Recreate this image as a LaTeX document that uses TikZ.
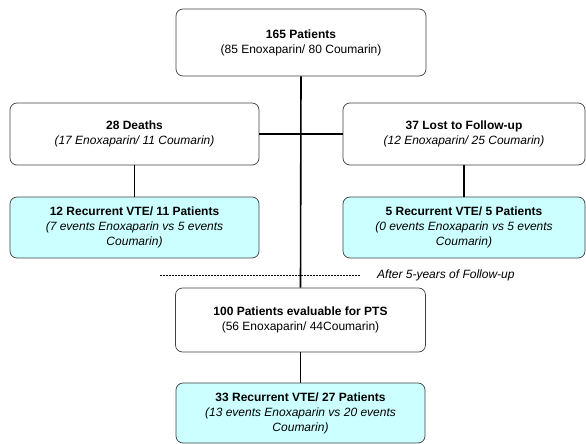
\documentclass[tikz,border=0pt]{standalone}
\usepackage{fontspec}
\setmainfont{Liberation Sans}
\definecolor{vtecyan}{HTML}{CCFFFF}
\begin{document}
\begin{tikzpicture}[x=1pt,y=-1pt,
    box/.style={draw=black!75, line width=0.7pt, rounded corners=7pt, fill=white,
      align=center, inner sep=0pt, font=\fontsize{12}{15}\selectfont},
    vtebox/.style={box, fill=vtecyan},
    link/.style={line width=1.6pt}]
        \useasboundingbox (0,0) rectangle (586,444);
        % flow lines first, boxes on top
        \coordinate (dashL) at (160,275);
        \coordinate (dashR) at (360,275);
        \node[box, minimum width=250pt, minimum height=67pt] (all) at (301,42.5)
          {\textbf{165 Patients}\\(85 Enoxaparin/ 80 Coumarin)};
        \node[box, minimum width=249pt, minimum height=62pt] (deaths) at (134.5,134)
          {\textbf{28 Deaths}\\\textit{(17 Enoxaparin/ 11 Coumarin)}};
        \node[box, minimum width=242pt, minimum height=62pt] (lost) at (464,134)
          {\textbf{37 Lost to Follow-up}\\\textit{(12 Enoxaparin/ 25 Coumarin)}};
        \node[vtebox, minimum width=249pt, minimum height=61pt] (vteD) at (134.5,227.5)
          {\textbf{12 Recurrent VTE/ 11 Patients}\\\textit{(7 events Enoxaparin vs 5 events}\\\textit{Coumarin)}};
        \node[vtebox, minimum width=242pt, minimum height=61pt] (vteL) at (464,227.5)
          {\textbf{5 Recurrent VTE/ 5 Patients}\\\textit{(0 events Enoxaparin vs 5 events}\\\textit{Coumarin)}};
        \node[box, minimum width=250pt, minimum height=64pt] (eval) at (300.5,320)
          {\textbf{100 Patients evaluable for PTS}\\(56 Enoxaparin/ 44Coumarin)};
        \node[vtebox, minimum width=249pt, minimum height=60pt] (vteE) at (300.5,413)
          {\textbf{33 Recurrent VTE/ 27 Patients}\\\textit{(13 events Enoxaparin vs 20 events}\\\textit{Coumarin)}};
        \node[anchor=west, inner sep=0pt, font=\fontsize{12}{15}\selectfont\itshape] (fu) at (377,275)
          {After 5-years of Follow-up};
        \draw[link] (all.south) -- (eval.north);
        \draw[link] (deaths.east) -- (lost.west);
        \draw[link] (deaths.south) -- (vteD.north);
        \draw[link] (lost.south) -- (vteL.north);
        \draw[link] (eval.south) -- (vteE.north);
        \draw[dashed, line width=0.5pt, dash pattern=on 2pt off 1pt] (dashL) -- (dashR);
\end{tikzpicture}
\end{document}
